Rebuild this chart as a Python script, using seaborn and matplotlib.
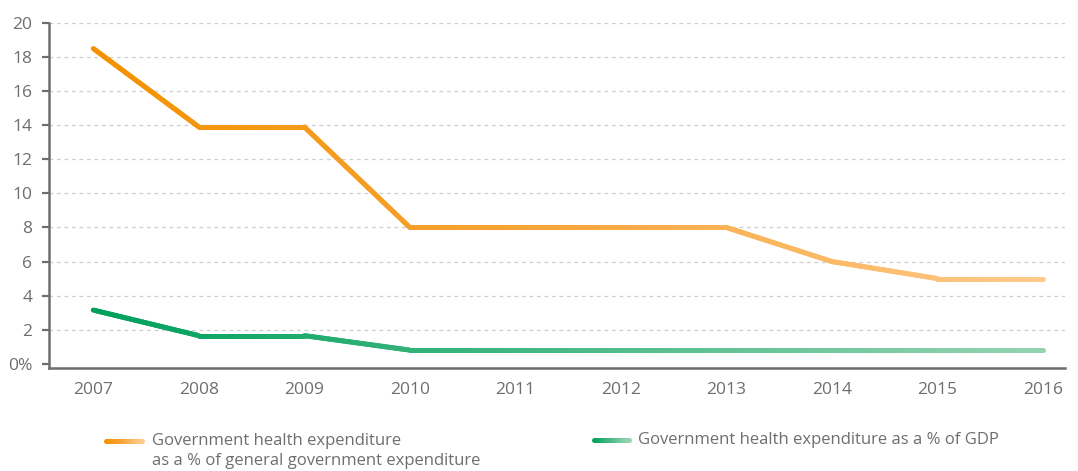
import numpy as np
import pandas as pd
import matplotlib
matplotlib.use("Agg")
import matplotlib.pyplot as plt
import seaborn as sns
from matplotlib.collections import LineCollection
from matplotlib.colors import LinearSegmentedColormap

# --- data ---
years = [2007, 2008, 2009, 2010, 2011, 2012, 2013, 2014, 2015, 2016]
share_gov_exp = [18.5, 13.9, 13.9, 8.0, 8.0, 8.0, 8.0, 6.0, 5.0, 5.0]
share_gdp = [3.15, 1.65, 1.65, 0.8, 0.8, 0.8, 0.8, 0.8, 0.8, 0.8]
y_ticks = [0, 2, 4, 6, 8, 10, 12, 14, 16, 18, 20]
y_labels = ["0%", "2", "4", "6", "8", "10", "12", "14", "16", "18", "20"]
label_gov = "Government health expenditure\nas a % of general government expenditure"
label_gdp = "Government health expenditure as a % of GDP"

# --- style ---
sns.set_style("white")
plt.rcParams["font.family"] = ["Open Sans", "DejaVu Sans"]
GREY = "#6e6e6e"
orange_cmap = LinearSegmentedColormap.from_list("org", ["#f39200", "#f7a63c", "#ffca8b"])
green_cmap = LinearSegmentedColormap.from_list("grn", ["#00a05c", "#94d3b1"])

df = pd.DataFrame({"year": years, "gov": share_gov_exp, "gdp": share_gdp})

fig = plt.figure(figsize=(10.78, 4.71), dpi=100)
ax = fig.add_axes([49 / 1078, 1 - 368 / 471, (1065 - 49) / 1078, (368 - 23) / 471])

def gradient_line(ax, x, y, cmap):
    """Draw seaborn line, then repaint it with a left-to-right colour gradient."""
    sns.lineplot(x=x, y=y, ax=ax, color=cmap(0.0), lw=3.6)
    line = ax.lines[-1]
    path = line.get_path().interpolated(60)
    pts = path.vertices
    segs = np.stack([pts[:-1], pts[1:]], axis=1)
    xmid = (pts[:-1, 0] + pts[1:, 0]) / 2
    t = (xmid - min(x)) / (max(x) - min(x))
    lc = LineCollection(segs, colors=cmap(t), linewidths=3.6, capstyle="round",
                        joinstyle="round", zorder=3)
    ax.add_collection(lc)
    line.set_visible(False)

gradient_line(ax, df["year"], df["gov"], orange_cmap)
gradient_line(ax, df["year"], df["gdp"], green_cmap)

ax.set_xlim(2006.58, 2016.21)
ax.set_ylim(-0.25, 20)
ax.set_xticks(years)
ax.set_xticklabels([str(y) for y in years])
ax.set_yticks(y_ticks)
ax.set_yticklabels(y_labels)
ax.set_xlabel("")
ax.set_ylabel("")

for yv in y_ticks[1:]:
    ax.axhline(yv, color="#cfcfcf", lw=0.9, ls=(0, (3, 3)), zorder=1)

for side in ["top", "right"]:
    ax.spines[side].set_visible(False)
for side in ["left", "bottom"]:
    ax.spines[side].set_color(GREY)
    ax.spines[side].set_linewidth(1.8)

ax.tick_params(axis="y", length=5, width=1.6, color=GREY, pad=7, labelsize=12.5,
               labelcolor=GREY, left=True)
ax.tick_params(axis="x", length=0, pad=10, labelsize=12.5, labelcolor=GREY)

# --- legend drawn by hand so the handles sit on the first text line ---
def legend_handle(x0, x1, yfig, cmap):
    xs = np.linspace(x0, x1, 30)
    pts = np.column_stack([xs, np.full_like(xs, yfig)])
    segs = np.stack([pts[:-1], pts[1:]], axis=1)
    lc = LineCollection(segs, colors=cmap(np.linspace(0, 1, len(segs))),
                        linewidths=3.6, capstyle="round", transform=fig.transFigure)
    fig.add_artist(lc)

legend_handle(106 / 1078, 142 / 1078, 1 - 441 / 471, orange_cmap)
legend_handle(594 / 1078, 629 / 1078, 1 - 440 / 471, green_cmap)
fig.text(152 / 1078, 1 - 433 / 471, label_gov, color=GREY, fontsize=12,
         va="top", ha="left", linespacing=1.3)
fig.text(638 / 1078, 1 - 432 / 471, label_gdp, color=GREY, fontsize=12,
         va="top", ha="left")

fig.savefig("out.png", dpi=100)
